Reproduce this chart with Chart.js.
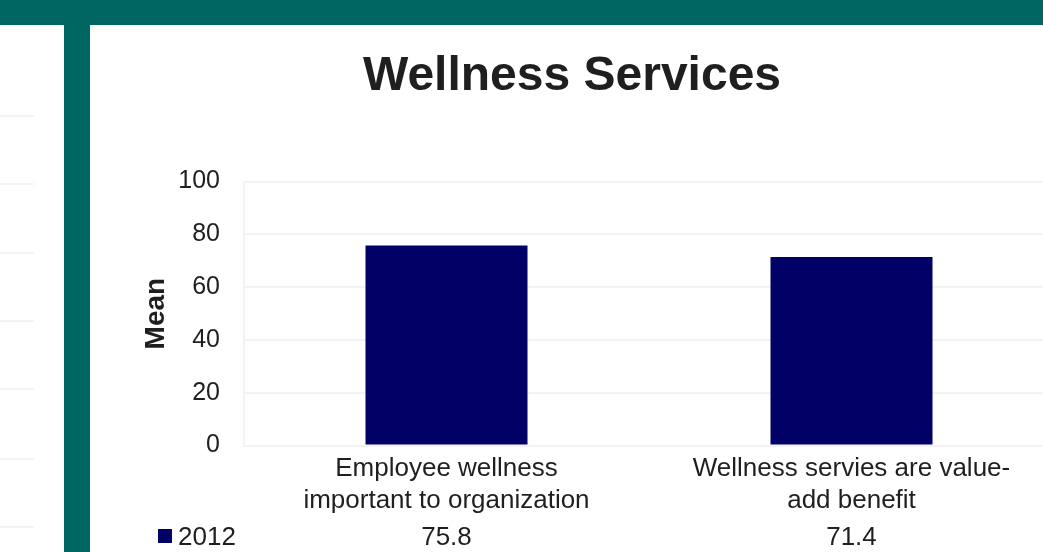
<!DOCTYPE html>
<html>
<head>
<meta charset="utf-8">
<script src="https://cdn.jsdelivr.net/npm/chart.js@4"></script>
<style>
  body { margin: 0; width: 1043px; height: 552px; overflow: hidden; background: #fff; position: relative; font-family: "Liberation Sans", Arial, sans-serif; }
  #topband { position: absolute; left: 0; top: 0; width: 1043px; height: 25px; background: #006661; }
  #sidebar { position: absolute; left: 64px; top: 25px; width: 26px; height: 527px; background: #006661; }
  .faint { position: absolute; left: 0; width: 34px; height: 2px; background: #f4f4f4; }
  #wrap { position: absolute; left: 90px; top: 25px; width: 994px; height: 527px; }
</style>
</head>
<body>
<div id="topband"></div>
<div id="sidebar"></div>
<div class="faint" style="top:115px"></div>
<div class="faint" style="top:183px"></div>
<div class="faint" style="top:252px"></div>
<div class="faint" style="top:320px"></div>
<div class="faint" style="top:388px"></div>
<div class="faint" style="top:458px"></div>
<div class="faint" style="top:526px"></div>
<div id="wrap"><canvas id="wellness"></canvas></div>

<script>
// chart data
categories = [
    ['Employee wellness', 'important to organization'],
    ['Wellness servies are value-', 'add benefit']
];
series_name = '2012';
series_values = [75.8, 71.4];
y_ticks = [0, 20, 40, 60, 80, 100];

barColor = '#000066';
textColor = '#1f1f1f';

// Draws the data table row under the axis (legend key + values)
dataTable = {
    id: 'dataTable',
    afterDraw(chart) {
        const ctx = chart.ctx;
        const x = chart.scales.x;
        const rowY = 513;
        ctx.save();
        ctx.font = '26px "Liberation Sans", Arial, sans-serif';
        ctx.fillStyle = barColor;
        ctx.fillRect(68, rowY - 9, 14, 14);
        ctx.fillStyle = textColor;
        ctx.textBaseline = 'middle';
        ctx.textAlign = 'left';
        ctx.fillText(chart.data.datasets[0].label, 88, rowY);
        ctx.textAlign = 'center';
        chart.data.datasets[0].data.forEach((v, i) => {
            ctx.fillText(v.toFixed(1), x.getPixelForValue(i), rowY);
        });
        ctx.restore();
    }
};

new Chart('wellness', {
    type: 'bar',
    data: {
        labels: categories,
        datasets: [{
            label: series_name,
            data: series_values,
            backgroundColor: barColor,
            barPercentage: 0.4,
            categoryPercentage: 1.0
        }]
    },
    options: {
        responsive: true,
        maintainAspectRatio: false,
        animation: false,
        layout: { padding: { left: 0, right: 30, top: 0, bottom: 36 } },
        plugins: {
            legend: { display: false },
            tooltip: { enabled: false },
            title: {
                display: true,
                text: 'Wellness Services',
                color: textColor,
                font: { family: '"Liberation Sans", Arial, sans-serif', size: 48, weight: 'bold' },
                padding: { top: 23, bottom: 76 }
            }
        },
        scales: {
            x: {
                grid: { display: false },
                border: { display: false },
                ticks: {
                    color: textColor,
                    padding: 0,
                    maxRotation: 0,
                    font: { family: '"Liberation Sans", Arial, sans-serif', size: 26, lineHeight: 1.2 }
                }
            },
            y: {
                min: 0,
                max: 100,
                afterBuildTicks: (scale) => { scale.ticks = y_ticks.map(v => ({ value: v })); },
                afterFit: (scale) => { scale.width = 154; },
                grid: { color: '#f3f3f3', lineWidth: 2, drawTicks: false },
                border: { display: true, color: '#f3f3f3', width: 2 },
                ticks: {
                    color: textColor,
                    padding: 24,
                    font: { family: '"Liberation Sans", Arial, sans-serif', size: 25 }
                },
                title: {
                    display: true,
                    text: 'Mean',
                    color: textColor,
                    padding: { top: 49, bottom: 0 },
                    font: { family: '"Liberation Sans", Arial, sans-serif', size: 28, weight: 'bold' }
                }
            }
        }
    },
    plugins: [dataTable]
});
</script>
</body>
</html>
